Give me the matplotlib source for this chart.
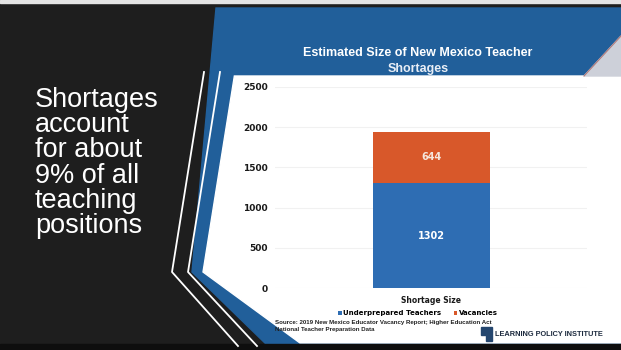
import matplotlib.pyplot as plt
from matplotlib.patches import Polygon, Rectangle

# chart data
categories = ["Shortage Size"]
underprepared = [1302]
vacancies = [644]
series_names = ["Underprepared Teachers", "Vacancies"]
y_ticks = [0, 500, 1000, 1500, 2000, 2500]

# slide text
headline = ["Shortages", "account", "for about", "9% of all", "teaching", "positions"]
title_lines = ["Estimated Size of New Mexico Teacher", "Shortages"]
source = ("Source: 2019 New Mexico Educator Vacancy Report; Higher Education Act\n"
          "National Teacher Preparation Data")
logo = "LEARNING POLICY INSTITUTE"

blue = "#2e6db3"
orange = "#d8582a"
header_blue = "#215f9a"
sans = ["Liberation Sans", "DejaVu Sans"]

W, H = 621, 350
fig = plt.figure(figsize=(6.21, 3.5), dpi=100)
fig.patch.set_facecolor("#1e1e1e")

# slide background, drawn in pixel coordinates
bg = fig.add_axes([0, 0, 1, 1])
bg.set_xlim(0, W)
bg.set_ylim(H, 0)
bg.axis("off")


def edge(x0, y):
    # slanted left side of the panel
    return x0 + 0.16 * (272 - y)


bg.add_patch(Rectangle((0, 0), W, 3, color="#e4e4e4"))
bg.add_patch(Polygon([(216, 8), (W, 8), (W, 346), (268, 346), (192, 272)],
                     color=header_blue))
bg.add_patch(Polygon([(edge(203, 76), 76), (W, 76), (W, 343), (300, 343), (203, 272)],
                     color="white"))
bg.add_patch(Polygon([(584, 76), (621, 36), (621, 76)], color="#cdd0d9"))
bg.plot([584, 621], [76, 36], color="#b07a7a", lw=0.8)
bg.add_patch(Rectangle((0, 344), W, 6, color="#0e0e0e"))
bg.plot([edge(172, 72), 172, 238], [72, 272, 346], color="white", lw=1.3)
bg.plot([edge(188, 72), 188, 257], [72, 272, 346], color="white", lw=1.3)

for i, line in enumerate(headline):
    bg.text(35, 107 + i * 25.2, line, fontsize=19.5, color="white", va="baseline",
            family=sans)

bg.text(418, 53, title_lines[0], fontsize=9, color="white", fontweight="bold",
        ha="center", va="center", family=sans)
bg.text(418, 69, title_lines[1], fontsize=9, color="#e8eef6", fontweight="bold",
        ha="center", va="center", family=sans)

bg.text(275, 326, source, fontsize=4.4, fontweight="bold", color="#222222",
        va="center", linespacing=1.65, family=sans)

bg.add_patch(Polygon([(481, 327), (492, 327), (492, 341), (486, 341), (486, 335), (481, 335)],
                     color="#24466e"))
bg.text(495, 334, logo, fontsize=5.3, fontweight="bold", color="#1d2b3f",
        va="center", family=sans)

# the chart itself
ax = fig.add_axes([275 / W, (H - 288) / H, (587 - 275) / W, (288 - 87) / H])
ax.set_facecolor("none")
b1 = ax.bar(categories, underprepared, width=0.75, color=blue, label=series_names[0], zorder=3)
b2 = ax.bar(categories, vacancies, bottom=underprepared, width=0.75, color=orange,
            label=series_names[1], zorder=3)
ax.bar_label(b1, label_type="center", color="white", fontweight="bold", fontsize=7)
ax.bar_label(b2, label_type="center", color="#f5e6dc", fontweight="bold", fontsize=7)

ax.set_xlim(-1, 1)
ax.set_ylim(0, 2500)
ax.set_yticks(y_ticks)
ax.grid(axis="y", color="#f1f1f1", lw=0.8, zorder=0)
for s in ax.spines.values():
    s.set_visible(False)
ax.tick_params(axis="y", length=0, pad=5, labelsize=6.5, labelcolor="#1a1a1a")
ax.tick_params(axis="x", length=0, pad=6, labelsize=5.5, labelcolor="#1a1a1a")
for lab in ax.get_yticklabels() + ax.get_xticklabels():
    lab.set_fontweight("bold")

fig.legend(handles=[b1, b2], labels=series_names, loc="center",
           bbox_to_anchor=(418, 313), bbox_transform=bg.transData, ncol=2,
           frameon=False, handlelength=0.5, handleheight=0.5,
           handletextpad=0.2, columnspacing=1.8, prop={"weight": "bold", "size": 5})

fig.savefig("out.png", dpi=100, facecolor=fig.get_facecolor())
